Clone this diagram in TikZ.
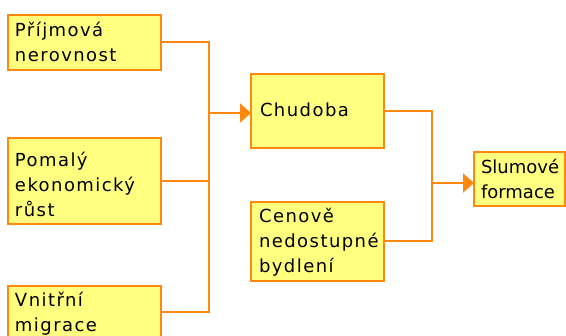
\documentclass[tikz,border=0pt]{standalone}
\usepackage{fontspec}
\setmainfont{DejaVu Sans}[LetterSpace=8]
\usetikzlibrary{arrows.meta}
\definecolor{boxfill}{RGB}{255,255,128}
\definecolor{orng}{RGB}{255,136,17}
\tikzset{
  box/.style={draw=orng, fill=boxfill, line width=2pt, rectangle, inner sep=0pt, outer sep=0pt, anchor=north west},
  lbl/.style={anchor=base west, inner sep=0pt, outer sep=0pt, font=\fontsize{18}{25}\selectfont},
  conn/.style={draw=orng, line width=2pt},
  arr/.style={conn, -{Triangle[length=11pt,width=19pt]}}
}
\newcommand{\lines}[1]{\begin{tabular}[t]{@{}l@{}}#1\end{tabular}}
\begin{document}
\begin{tikzpicture}[x=1pt,y=-1pt]
\useasboundingbox (0,0) rectangle (566,336);
\clip (0,0) rectangle (566,336);
% boxes
\node[box, minimum width=153pt, minimum height=55pt] (b1) at (8,15) {};
\node[box, minimum width=153pt, minimum height=86pt] (b2) at (8,138) {};
\node[box, minimum width=153pt, minimum height=52pt] (b3) at (8,286) {};
\node[box, minimum width=133pt, minimum height=74pt] (chud) at (251,74) {};
\node[box, minimum width=133pt, minimum height=79pt] (ceno) at (251,202) {};
\node[box, minimum width=91pt, minimum height=54pt] (slum) at (474,152) {};
% texts
\node[lbl] (t1) at (15,37) {\lines{Příjmová\\nerovnost}};
\node[lbl] (t2) at (15,167) {\lines{Pomalý\\ekonomický\\růst}};
\node[lbl] (t3) at (15,307) {\lines{Vnitřní\\migrace}};
\node[lbl] (t4) at (260,117) {Chudoba};
\node[lbl] (t5) at (259,223) {\lines{Cenově\\nedostupné\\bydlení}};
\node[lbl] (t6) at (481,174) {\addfontfeature{LetterSpace=0}\lines{Slumové\\formace}};
% connectors
\coordinate (j1) at (209,113);
\coordinate (j2) at (432,183);
\draw[conn] (b1.east) -| (j1);
\draw[conn] (b2.east) -| (j1);
\draw[conn] (b3.east) -| (j1);
\draw[arr] (j1) -- (chud.west |- j1);
\draw[conn] (chud.east) -| (j2);
\draw[conn] (ceno.east) -| (j2);
\draw[arr] (j2) -- (slum.west |- j2);
\end{tikzpicture}
\end{document}
